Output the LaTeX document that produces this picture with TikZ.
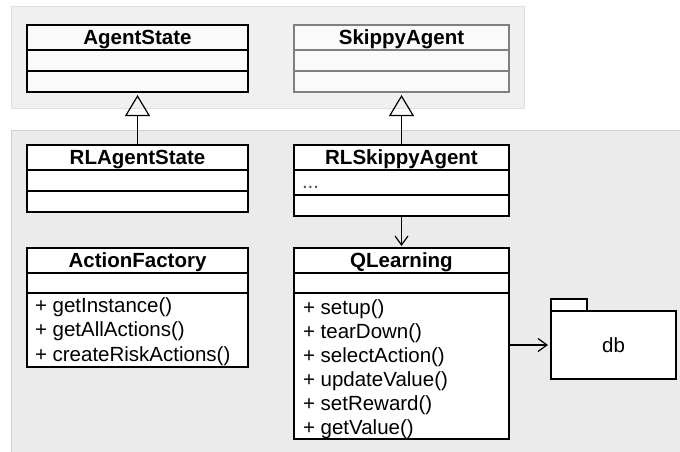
\documentclass[tikz,border=0pt]{standalone}
\usepackage{fontspec}
\setmainfont{Liberation Sans}
\usetikzlibrary{arrows.meta,calc}

% UML class box: #1 name, #2 x, #3 y, #4 width, #5 height,
% #6 title, #7 header height, #8 attribute compartment height; style via \classstyle
\newcommand\umlclass[8]{%
  \node[classframe, minimum width=#4, minimum height=#5] (#1) at ($(#2,#3)+(#4/2,#5/2)$) {};
  \node[classtitle] (#1-title) at ($(#1.north)+(0,#7/2+7)$) {#6};
  \draw[sepline] ($(#1.north west)+(0,#7)$) coordinate (#1-s1) -- ($(#1.north east)+(0,#7)$);
  \draw[sepline] ($(#1.north west)+(0,#7+#8)$) coordinate (#1-s2) -- ($(#1.north east)+(0,#7+#8)$);
}

\begin{document}
\begin{tikzpicture}[x=1pt, y=-1pt,
  every node/.style={font=\fontsize{20.5}{24}\selectfont, inner sep=0pt, outer sep=0pt},
  classframe/.style={draw=black, fill=white, line width=1.2pt},
  classtitle/.style={anchor=base, font=\fontsize{20.5}{24}\selectfont\bfseries},
  sepline/.style={draw=black, line width=1.2pt},
  optext/.style={anchor=base west},
  topzone/.style={draw=gray!25, fill=black!6, line width=1pt},
  lowzone/.style={draw=gray!35, fill=black!8, line width=1pt},
  inherit/.style={draw=black, line width=1.2pt, -{Triangle[open, length=21pt, width=25pt, line width=1.2pt]}, shorten >=3pt},
  assoc/.style={draw=black, line width=1.2pt, -{Straight Barb[length=9pt, width=13pt, line width=1.2pt]}, shorten >=2pt},
  pkg/.style={draw=black, fill=white, line width=1.2pt}
]
\useasboundingbox (0,0) rectangle (680,452);

% package regions
\path[topzone] (11,7) rectangle (524,108);
\path[lowzone] (11,130) rectangle (684,456);

% framework classes
\begin{scope}[classframe/.append style={fill=black!2}]
  \umlclass{agentstate}{27}{25}{221}{67}{AgentState}{25}{21}
\end{scope}
\begin{scope}[classframe/.append style={fill=black!2, draw=black!50}, sepline/.append style={draw=black!50}]
  \umlclass{skippyagent}{294}{25}{215}{67}{SkippyAgent}{25}{21}
\end{scope}

% learning classes
\umlclass{rlagentstate}{27}{145}{221}{67}{RLAgentState}{25}{21}
\umlclass{rlskippyagent}{294}{145}{215}{71}{RLSkippyAgent}{25}{25}
\node[optext, text=black!70] (rlskippyagent-attr) at (302,188) {...};

\umlclass{actionfactory}{27}{248}{221}{119}{ActionFactory}{25}{20}
\foreach \op [count=\i] in {getInstance(), getAllActions(), createRiskActions()}
  \node[optext] (actionfactory-op\i) at (35,{288+24.4*\i}) {+ \op};

\umlclass{qlearning}{294}{248}{215}{191}{QLearning}{25}{20}
\foreach \op [count=\i] in {setup(), tearDown(), selectAction(), updateValue(), setReward(), getValue()}
  \node[optext] (qlearning-op\i) at (303,{290+24.1*\i}) {+ \op};

% db package
\node[pkg, anchor=north west, minimum width=36, minimum height=12] (dbtab) at (551,299) {};
\node[pkg, anchor=north west, minimum width=125, minimum height=68] (db) at (551,311) {};
\node[anchor=base] (dblabel) at ($(db.center)+(0,7)$) {db};

% relations
\draw[inherit] (rlagentstate.north) -- (agentstate.south);
\draw[inherit] (rlskippyagent.north) -- (skippyagent.south);
\draw[assoc] (rlskippyagent.south) -- (qlearning.north);
\coordinate (qlout) at (qlearning.east |- db.west);
\draw[assoc] (qlout) -- ([xshift=-1pt]db.west);
\end{tikzpicture}
\end{document}
